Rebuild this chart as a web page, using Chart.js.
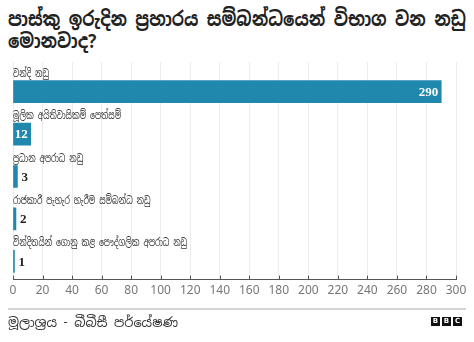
<!DOCTYPE html>
<html>
<head>
<meta charset="utf-8">
<script src="https://cdn.jsdelivr.net/npm/chart.js@4"></script>
<style>
  html, body { margin: 0; padding: 0; background: #fff; }
  body { width: 474px; height: 342px; position: relative; overflow: hidden;
         font-family: "Noto Sans Sinhala", "Noto Sans", "DejaVu Sans", sans-serif; }
  #title { position: absolute; left: 8px; top: 8px; margin: 0; white-space: nowrap;
           font-size: 20px; line-height: 22px; font-weight: bold; color: #222;
           transform-origin: 0 0; }
  #wrap { position: absolute; left: 0; top: 0; width: 474px; height: 342px; }
  #rule { position: absolute; left: 8px; top: 308px; width: 458px; height: 2px; background: #d4d4d4; }
  #source { position: absolute; left: 8px; top: 314px; font-size: 13px; color: #333; }
  #logo { position: absolute; left: 431px; top: 317px; display: flex; gap: 2px; }
  #logo span { display: block; width: 9px; height: 9px; background: #111; color: #fff;
               font: bold 7px/9px "DejaVu Sans", sans-serif; text-align: center; }
</style>
</head>
<body>
<h1 id="title">පාස්කු ඉරුදින ප්‍රහාරය සම්බන්ධයෙන් විභාග වන නඩු<br>මොනවාද?</h1>
<div id="wrap"><canvas id="chart" width="474" height="342"></canvas></div>
<div id="rule"></div>
<div id="source">මූලාශ්‍රය - බීබීසී පර්යේෂණ</div>
<div id="logo"><span>B</span><span>B</span><span>C</span></div>

<script>
// case categories and counts
const categories = [
    'වන්දි නඩු',
    'මූලික අයිතිවාසිකම් පෙත්සම්',
    'ප්‍රධාන අපරාධ නඩු',
    'රාජකාරී පැහැර හැරීම සම්බන්ධ නඩු',
    'වින්දිතයින් ගොනු කළ පෞද්ගලික අපරාධ නඩු'
];
const caseCounts = [290, 12, 3, 2, 1];
const xTicks = [0, 20, 40, 60, 80, 100, 120, 140, 160, 180, 200, 220, 240, 260, 280, 300];

const barColor = '#2088ad';
const axisColor = '#555';

// squeeze the headline so the first line fits the page width
const title = document.getElementById('title');
title.style.transform = `scaleX(${Math.min(1, 458 / title.scrollWidth)})`;

/**
 * Category names above each bar, counts at the bar end
 */
const barLabels = {
    id: 'barLabels',
    afterDatasetsDraw(chart) {
        const ctx = chart.ctx;
        const meta = chart.getDatasetMeta(0);
        meta.data.forEach((bar, i) => {
            const top = bar.y - bar.height / 2;

            // category name, narrowed a bit
            ctx.save();
            ctx.font = '11px "Noto Sans Sinhala", "Noto Sans", sans-serif';
            ctx.fillStyle = '#333';
            ctx.textAlign = 'left';
            ctx.textBaseline = 'alphabetic';
            ctx.translate(chart.chartArea.left, top - 4);
            ctx.scale(0.7, 1);
            ctx.fillText(categories[i], 0, 0);
            ctx.restore();

            // value
            ctx.save();
            const txt = String(caseCounts[i]);
            ctx.font = 'bold 13px "Liberation Serif", serif';
            ctx.textBaseline = 'middle';
            const w = ctx.measureText(txt).width;
            const barW = bar.x - bar.base;
            if (barW > w + 3) {
                ctx.fillStyle = '#fff';
                ctx.textAlign = 'right';
                ctx.fillText(txt, bar.x - 3, bar.y + 1);
            } else {
                ctx.fillStyle = '#222';
                ctx.textAlign = 'left';
                ctx.fillText(txt, bar.x + 4, bar.y + 1);
            }
            ctx.restore();
        });
    }
};

/**
 * Short tick marks standing up from the x axis line
 */
const innerTicks = {
    id: 'innerTicks',
    afterDraw(chart) {
        const ctx = chart.ctx;
        const xs = chart.scales.x;
        const bottom = chart.chartArea.bottom;
        ctx.save();
        ctx.strokeStyle = axisColor;
        ctx.lineWidth = 1;
        ctx.beginPath();
        xTicks.forEach(v => {
            const px = Math.round(xs.getPixelForValue(v)) + 0.5;
            ctx.moveTo(px, bottom - 4);
            ctx.lineTo(px, bottom);
        });
        ctx.stroke();
        ctx.restore();
    }
};

new Chart(document.getElementById('chart'), {
    type: 'bar',
    data: {
        datasets: [{
            data: caseCounts.map((v, i) => ({ x: v, y: i })),
            backgroundColor: barColor,
            borderWidth: 0,
            barThickness: 22
        }]
    },
    options: {
        indexAxis: 'y',
        responsive: false,
        animation: false,
        layout: { padding: { left: 13, right: 18, top: 62, bottom: 40 } },
        plugins: {
            legend: { display: false },
            tooltip: { enabled: false }
        },
        scales: {
            x: {
                type: 'linear',
                min: 0,
                max: 300,
                afterBuildTicks: (scale) => { scale.ticks = xTicks.map(v => ({ value: v })); },
                grid: { color: '#ececec', drawTicks: false },
                border: { display: true, color: axisColor, width: 1 },
                ticks: {
                    color: '#777',
                    padding: 4,
                    font: { size: 12, family: '"Noto Sans", sans-serif' }
                }
            },
            y: {
                type: 'linear',
                reverse: true,
                offset: false,
                min: -0.7,
                max: 4.43,
                display: false
            }
        }
    },
    plugins: [barLabels, innerTicks]
});
</script>
</body>
</html>
